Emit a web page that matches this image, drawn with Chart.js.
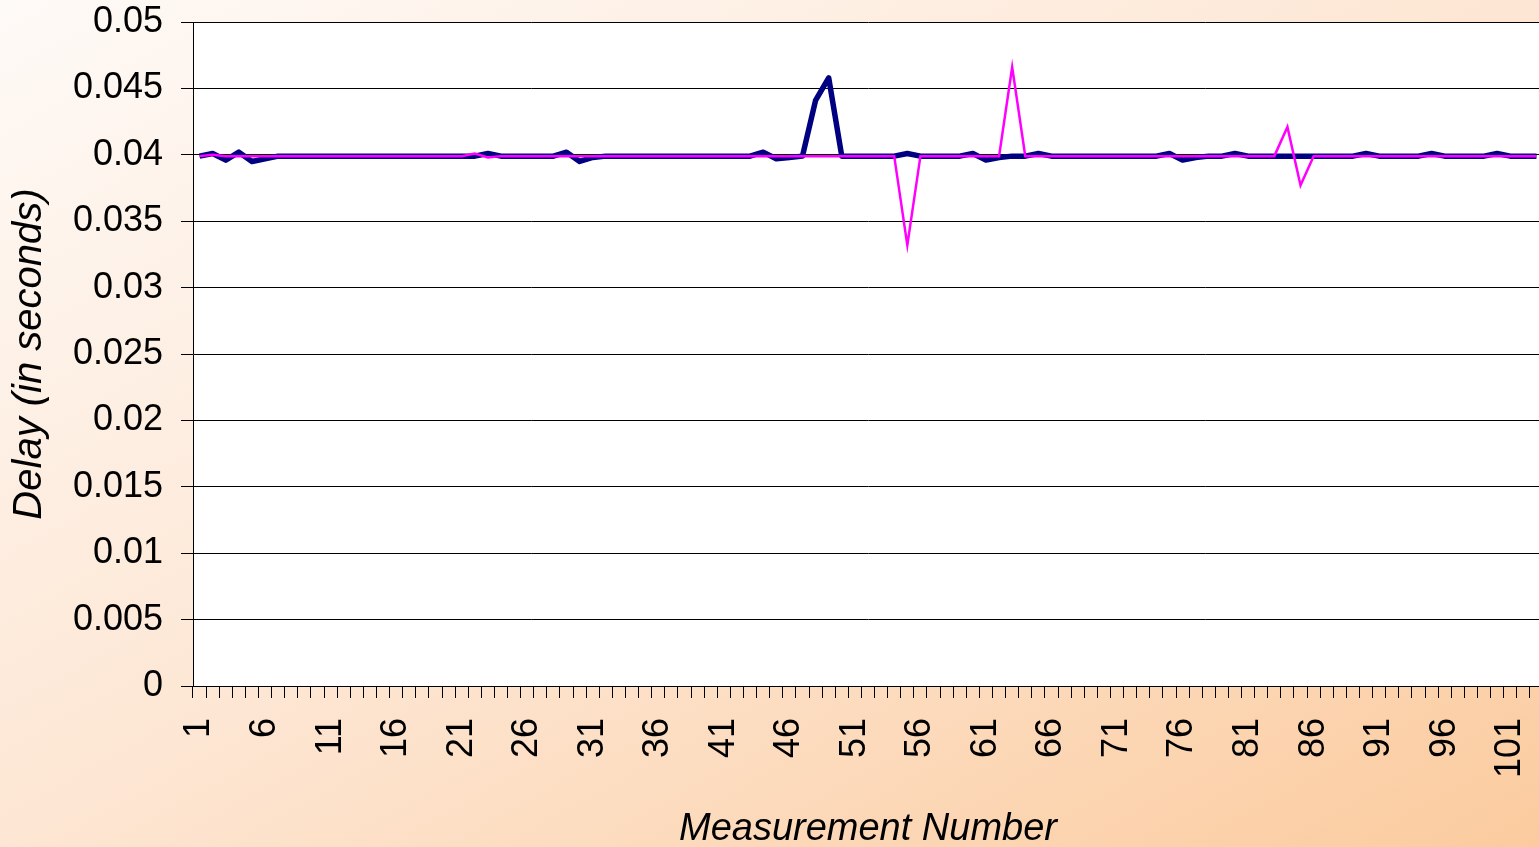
<!DOCTYPE html>
<html>
<head>
<meta charset="utf-8">
<script src="https://cdn.jsdelivr.net/npm/chart.js@4/dist/chart.umd.min.js"></script>
<style>
  html, body { margin: 0; padding: 0; overflow: hidden; }
  #wrap {
    width: 1539px; height: 847px; overflow: hidden; position: relative;
    background: linear-gradient(to bottom right, #fefaf7 0%, #fde6d3 50%, #fbcb9e 100%);
  }
  #chart { position: absolute; left: 0; top: 0; }
</style>
</head>
<body>
<div id="wrap"><canvas id="chart" width="1546" height="847"></canvas></div>
<script>
// numero de medida (eje x)
const measurementNumbers = [
  "1","2","3","4","5","6","7","8","9","10",
  "11","12","13","14","15","16","17","18","19","20",
  "21","22","23","24","25","26","27","28","29","30",
  "31","32","33","34","35","36","37","38","39","40",
  "41","42","43","44","45","46","47","48","49","50",
  "51","52","53","54","55","56","57","58","59","60",
  "61","62","63","64","65","66","67","68","69","70",
  "71","72","73","74","75","76","77","78","79","80",
  "81","82","83","84","85","86","87","88","89","90",
  "91","92","93","94","95","96","97","98","99","100",
  "101","102","103"
];

// serie azul (trazo grueso)
const delayNavy = [
  0.0399, 0.0401, 0.0396, 0.0402, 0.0395, 0.0397, 0.0399, 0.0399, 0.0399, 0.0399,
  0.0399, 0.0399, 0.0399, 0.0399, 0.0399, 0.0399, 0.0399, 0.0399, 0.0399, 0.0399,
  0.0399, 0.0399, 0.0401, 0.0399, 0.0399, 0.0399, 0.0399, 0.0399, 0.0402, 0.0395,
  0.0398, 0.0399, 0.0399, 0.0399, 0.0399, 0.0399, 0.0399, 0.0399, 0.0399, 0.0399,
  0.0399, 0.0399, 0.0399, 0.0402, 0.0397, 0.0398, 0.0399, 0.0441, 0.0458, 0.0399,
  0.0399, 0.0399, 0.0399, 0.0399, 0.0401, 0.0399, 0.0399, 0.0399, 0.0399, 0.0401,
  0.0396, 0.0398, 0.0399, 0.0399, 0.0401, 0.0399, 0.0399, 0.0399, 0.0399, 0.0399,
  0.0399, 0.0399, 0.0399, 0.0399, 0.0401, 0.0396, 0.0398, 0.0399, 0.0399, 0.0401,
  0.0399, 0.0399, 0.0399, 0.0399, 0.0399, 0.0399, 0.0399, 0.0399, 0.0399, 0.0401,
  0.0399, 0.0399, 0.0399, 0.0399, 0.0401, 0.0399, 0.0399, 0.0399, 0.0399, 0.0401,
  0.0399, 0.0399, 0.0399
];

// serie magenta (trazo fino)
const delayMagenta = [
  0.0399, 0.0400, 0.0399, 0.0399, 0.0399, 0.0399, 0.0399, 0.0399, 0.0399, 0.0399,
  0.0399, 0.0399, 0.0399, 0.0399, 0.0399, 0.0399, 0.0399, 0.0399, 0.0399, 0.0399,
  0.0399, 0.0401, 0.0398, 0.0399, 0.0399, 0.0399, 0.0399, 0.0399, 0.0399, 0.0399,
  0.0399, 0.0399, 0.0399, 0.0399, 0.0399, 0.0399, 0.0399, 0.0399, 0.0399, 0.0399,
  0.0399, 0.0399, 0.0399, 0.0399, 0.0399, 0.0399, 0.0399, 0.0399, 0.0399, 0.0399,
  0.0399, 0.0399, 0.0399, 0.0399, 0.0332, 0.0399, 0.0399, 0.0399, 0.0399, 0.0399,
  0.0399, 0.0399, 0.0466, 0.0399, 0.0399, 0.0399, 0.0399, 0.0399, 0.0399, 0.0399,
  0.0399, 0.0399, 0.0399, 0.0399, 0.0399, 0.0399, 0.0399, 0.0399, 0.0399, 0.0399,
  0.0399, 0.0399, 0.0399, 0.0421, 0.0377, 0.0399, 0.0399, 0.0399, 0.0399, 0.0399,
  0.0399, 0.0399, 0.0399, 0.0399, 0.0399, 0.0399, 0.0399, 0.0399, 0.0399, 0.0399,
  0.0399, 0.0399, 0.0399
];

// etiquetas del eje y
const delayTicks = ["0", "0.005", "0.01", "0.015", "0.02", "0.025", "0.03", "0.035", "0.04", "0.045", "0.05"];

const FONT = "'Liberation Sans', Arial, sans-serif";

// fondo blanco del area de trazado
const plotBg = {
  id: "plotBg",
  beforeDraw(chart) {
    const { ctx, chartArea: a } = chart;
    ctx.save();
    ctx.fillStyle = "#ffffff";
    ctx.fillRect(a.left, a.top, a.right - a.left, a.bottom - a.top);
    ctx.restore();
  },
};

new Chart(document.getElementById("chart"), {
  type: "line",
  data: {
    labels: measurementNumbers,
    datasets: [
      {
        label: "Serie 1",
        data: delayNavy,
        borderColor: "#000080",
        borderWidth: 5.5,
        pointRadius: 0,
        tension: 0,
        borderJoinStyle: "round",
        order: 1,
      },
      {
        label: "Serie 2",
        data: delayMagenta,
        borderColor: "#ff00ff",
        borderWidth: 2.5,
        pointRadius: 0,
        tension: 0,
        order: 0,
      },
    ],
  },
  options: {
    responsive: false,
    animation: false,
    layout: { padding: { top: 22, right: 3, bottom: 0, left: 0 } },
    plugins: {
      legend: { display: false },
      tooltip: { enabled: false },
    },
    scales: {
      x: {
        offset: true,
        grid: {
          offset: true,
          drawOnChartArea: false,
          drawTicks: true,
          tickLength: 12,
          tickColor: "#000",
        },
        border: { color: "#000", width: 1 },
        ticks: {
          autoSkip: false,
          minRotation: 90,
          maxRotation: 90,
          padding: 20,
          color: "#000",
          font: { family: FONT, size: 36 },
          callback: (v, i) => (i % 5 === 0 ? measurementNumbers[i] : ""),
        },
        title: {
          display: true,
          text: "Measurement Number",
          color: "#000",
          font: { family: FONT, size: 38, style: "italic" },
          padding: { top: 0, bottom: -5 },
        },
        afterFit: (s) => {
          s.height = 161;
          s.paddingLeft = 0;
          s.paddingRight = 0;
        },
      },
      y: {
        min: 0,
        max: 0.05,
        grid: { color: "#000", tickLength: 12, tickColor: "#000" },
        border: { color: "#000", width: 1 },
        ticks: {
          stepSize: 0.005,
          padding: 18,
          color: "#000",
          font: { family: FONT, size: 36 },
          callback: (v, i) => delayTicks[i],
        },
        title: {
          display: true,
          text: "Delay (in seconds)",
          color: "#000",
          font: { family: FONT, size: 40, style: "italic" },
          padding: { top: 6, bottom: 0 },
        },
        afterFit: (s) => {
          s.width = 193;
          s.paddingTop = 0;
          s.paddingBottom = 0;
        },
      },
    },
  },
  plugins: [plotBg],
});
</script>
</body>
</html>
